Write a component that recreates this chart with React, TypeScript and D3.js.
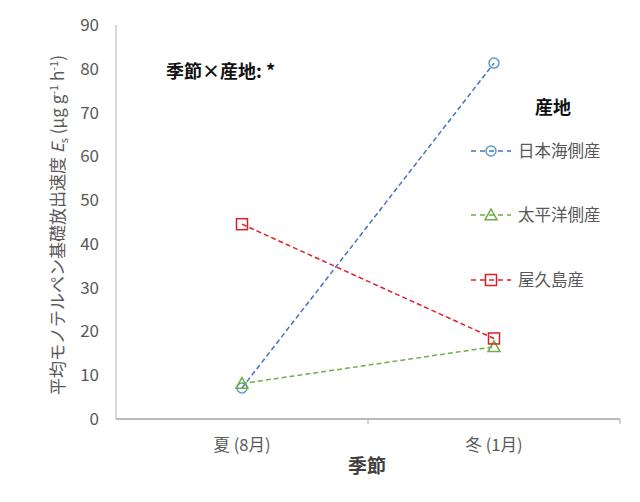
import React from "react";
import * as d3 from "d3";

const seasons = ["夏 (8月)", "冬 (1月)"];
const seriesNames = ["日本海側産", "太平洋側産", "屋久島産"];
const japanSea = [7.1, 81.3];
const pacific = [8.1, 16.5];
const yakushima = [44.5, 18.4];
const yTicks = [0, 10, 20, 30, 40, 50, 60, 70, 80, 90];

const W = 640, H = 502;
const FONT = "'Noto Sans CJK JP', 'Noto Sans', sans-serif";

const series = [
  { name: seriesNames[0], values: japanSea, line: "#4472C4", marker: "#5B9BD5", shape: "circle" },
  { name: seriesNames[1], values: pacific, line: "#70AD47", marker: "#70AD47", shape: "triangle" },
  { name: seriesNames[2], values: yakushima, line: "#E0202A", marker: "#D9202A", shape: "square" },
];

function Marker({ shape, x, y, color }: { shape: string; x: number; y: number; color: string }) {
  if (shape === "circle") return <circle cx={x} cy={y} r={5} fill="white" fillOpacity={0} stroke={color} strokeWidth={1.5} />;
  if (shape === "triangle") {
    const s = 6;
    return <path d={`M${x},${y - s}L${x + s},${y + s * 0.8}L${x - s},${y + s * 0.8}Z`} fill="none" stroke={color} strokeWidth={1.5} />;
  }
  return <rect x={x - 5.5} y={y - 5.5} width={11} height={11} fill="none" stroke={color} strokeWidth={1.5} />;
}

export default function App() {
  const x = d3.scaleBand<string>().domain(seasons).range([116, 620]);
  const y = d3.scaleLinear().domain([0, 90]).range([419, 25]);
  const cx = (s: string) => (x(s) as number) + x.bandwidth() / 2;
  const line = d3.line<number>().x((_, i) => cx(seasons[i])).y((v) => y(v));
  const legendY = [151, 215, 280];
  const boundaries = [116, 116 + x.bandwidth(), 620];

  return (
    <svg width={W} height={H} style={{ position: "absolute", left: 0, top: 0, background: "white" }} fontFamily={FONT}>
      {/* axes */}
      <line x1={116} x2={116} y1={y(90)} y2={y(0)} stroke="#bfbfbf" strokeWidth={1.2} />
      <line x1={116} x2={620} y1={y(0)} y2={y(0)} stroke="#a6a6a6" strokeWidth={1.5} />
      {boundaries.slice(1).map((b, i) => (
        <line key={i} x1={b} x2={b} y1={y(0)} y2={y(0) + 5} stroke="#a6a6a6" strokeWidth={1} />
      ))}
      {yTicks.map((t) => (
        <text key={t} x={99} y={y(t)} dy="0.35em" textAnchor="end" fontSize={17} fill="#595959">{t}</text>
      ))}
      {seasons.map((s) => (
        <text key={s} x={cx(s)} y={451} textAnchor="middle" fontSize={16.5} fill="#595959">{s}</text>
      ))}
      <text x={367} y={473} textAnchor="middle" fontSize={19} fontWeight="bold" fill="#404040">季節</text>
      <text transform={`translate(64,225) rotate(-90)`} textAnchor="middle" fontSize={17} fill="#595959">
        平均モノテルペン基礎放出速度 <tspan fontStyle="italic">E</tspan>
        <tspan fontSize={11} dy={4}>s</tspan>
        <tspan dy={-4}> (μg g</tspan>
        <tspan fontSize={11} dy={-6}>-1</tspan>
        <tspan dy={6}> h</tspan>
        <tspan fontSize={11} dy={-6}>-1</tspan>
        <tspan dy={6}>)</tspan>
      </text>

      {/* series */}
      {series.map((s) => (
        <g key={s.name}>
          <path d={line(s.values) as string} fill="none" stroke={s.line} strokeWidth={1.5} strokeDasharray="5,3" />
          {s.values.map((v, i) => (
            <Marker key={i} shape={s.shape} x={cx(seasons[i])} y={y(v)} color={s.marker} />
          ))}
        </g>
      ))}

      <text x={166} y={78} fontSize={18} fontWeight="bold" fill="#111">季節×産地: *</text>

      {/* legend */}
      <text x={553} y={114} textAnchor="middle" fontSize={18} fontWeight="bold" fill="#111">産地</text>
      {series.map((s, i) => (
        <g key={s.name}>
          <line x1={471} x2={511} y1={legendY[i]} y2={legendY[i]} stroke={s.line} strokeWidth={1.5} strokeDasharray="5,4" />
          <Marker shape={s.shape} x={491} y={legendY[i]} color={s.marker} />
          <text x={518} y={legendY[i]} dy="0.35em" fontSize={16.5} fill="#595959">{s.name}</text>
        </g>
      ))}
    </svg>
  );
}
